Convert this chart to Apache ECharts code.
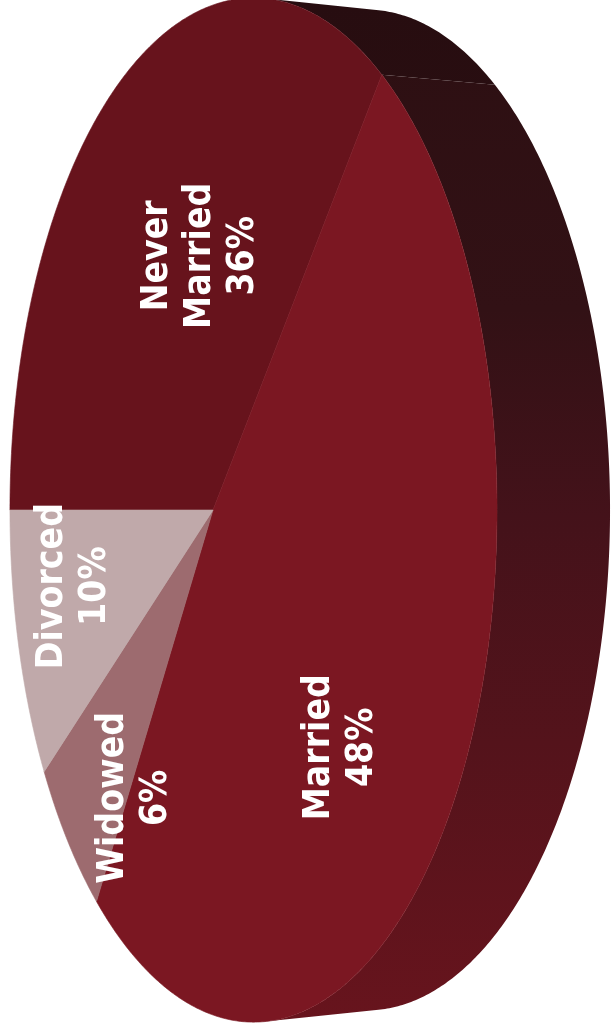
<!DOCTYPE html>
<html>
<head>
<meta charset="utf-8">
<style>
  html, body { margin: 0; padding: 0; background: #ffffff; }
  #chart { width: 614px; height: 1032px; }
</style>
<script src="https://cdn.jsdelivr.net/npm/echarts@6/dist/echarts.min.js"></script>
</head>
<body>
<div id="chart"></div>
<script>
// Marital status shares, laid out clockwise starting from the 9 o'clock edge
const categories = ['Never Married', 'Married', 'Widowed', 'Divorced'];
const shares = [36, 48, 6, 10];
const topColors = ['#67131c', '#7b1722', '#9d6b6f', '#c0a9aa'];
// label anchors on the disc, in unit-disc coordinates (u to the right, v downwards)
const labelSpots = [[-0.055, -0.508], [0.496, 0.431], [-0.349, 0.603], [-0.65, 0.167]];

// disc geometry in pixels, with a little perspective towards the right-hand rim
const CX = 213, CY = 510, RX = 236.8, RY = 505, PERSP = 0.1663;
const DEPTH_X = 113, DEPTH_SCALE = 0.977;
const START = Math.PI;
const TWO_PI = Math.PI * 2;

function onDisc(u, v) {
  const w = 1 / (1 - PERSP * u);
  return [CX + RX * u * w, CY + RY * v * w];
}
function rimTop(t) { return onDisc(Math.cos(t), Math.sin(t)); }
function rimBottom(t) {
  const p = rimTop(t);
  return [p[0] + DEPTH_X, CY + DEPTH_SCALE * (p[1] - CY)];
}
function sampleRim(fn, a, b) {
  const pts = [];
  const n = Math.max(2, Math.ceil(Math.abs(b - a) / (Math.PI / 360)));
  for (let i = 0; i <= n; i++) pts.push(fn(a + (b - a) * i / n));
  return pts;
}

// cumulative slice boundaries
const total = shares.reduce((s, v) => s + v, 0);
const bounds = [START];
shares.forEach(v => bounds.push(bounds[bounds.length - 1] + TWO_PI * v / total));

// part of the rim whose wall faces the viewer: between the two silhouette tangents
function wallCross(t) {
  const h = 1e-4;
  const a = rimTop(t - h), b = rimTop(t + h);
  const p = rimTop(t), q = rimBottom(t);
  return (b[0] - a[0]) * (q[1] - p[1]) - (b[1] - a[1]) * (q[0] - p[0]);
}
const wallRange = (function () {
  const n = 7200, roots = [];
  let prev = wallCross(START);
  for (let i = 1; i <= n; i++) {
    const t = START + TWO_PI * i / n;
    const c = wallCross(t);
    if ((c < 0) !== (prev < 0)) roots.push(t);
    prev = c;
  }
  return [roots[0], roots[1]];
})();

function wallFill(dark) {
  const k = dark ? 0.88 : 1;
  const shade = (hex) => {
    const n = parseInt(hex.slice(1), 16);
    const r = Math.round(((n >> 16) & 255) * k), g = Math.round(((n >> 8) & 255) * k), b = Math.round((n & 255) * k);
    return 'rgb(' + r + ',' + g + ',' + b + ')';
  };
  return {
    type: 'linear', x: 0, y: 0, x2: 0, y2: 1032, global: true,
    colorStops: [
      { offset: 0, color: shade('#2c0f12') },
      { offset: 0.3, color: shade('#321115') },
      { offset: 0.5, color: shade('#44121a') },
      { offset: 0.72, color: shade('#54131b') },
      { offset: 1, color: shade('#68141d') }
    ]
  };
}

const chart = echarts.init(document.getElementById('chart'), null, { renderer: 'canvas' });

chart.setOption({
  backgroundColor: '#ffffff',
  animation: false,
  series: [
    {
      // outer wall of the disc
      type: 'custom',
      coordinateSystem: 'none',
      silent: true,
      z: 1,
      data: shares,
      renderItem: function (params) {
        const i = params.dataIndex;
        const lo = Math.max(bounds[i], wallRange[0]);
        const hi = Math.min(bounds[i + 1], wallRange[1]);
        if (!(lo < hi)) return { type: 'group', children: [] };
        const pts = sampleRim(rimTop, lo, hi).concat(sampleRim(rimBottom, hi, lo));
        return {
          type: 'polygon',
          shape: { points: pts },
          style: { fill: wallFill(i === 0), stroke: null }
        };
      }
    },
    {
      // top face slices
      type: 'custom',
      coordinateSystem: 'none',
      silent: true,
      z: 2,
      data: shares,
      renderItem: function (params) {
        const i = params.dataIndex;
        const pts = [onDisc(0, 0)].concat(sampleRim(rimTop, bounds[i], bounds[i + 1]));
        return {
          type: 'polygon',
          shape: { points: pts },
          style: { fill: topColors[i], stroke: topColors[i], lineWidth: 0.6 }
        };
      }
    },
    {
      // slice labels, read bottom-to-top
      type: 'custom',
      coordinateSystem: 'none',
      silent: true,
      z: 3,
      data: shares,
      renderItem: function (params, api) {
        const i = params.dataIndex;
        const spot = labelSpots[i];
        const p = onDisc(spot[0], spot[1]);
        const pct = Math.round(api.value(0) / total * 100) + '%';
        return {
          type: 'text',
          x: p[0],
          y: p[1],
          rotation: Math.PI / 2,
          style: {
            text: categories[i].replace(' ', '\n') + '\n' + pct,
            fill: '#ffffff',
            font: 'bold 37px "DejaVu Sans Condensed", "DejaVu Sans", sans-serif',
            align: 'center',
            verticalAlign: 'middle',
            lineHeight: 43
          }
        };
      }
    }
  ]
});
</script>
</body>
</html>
